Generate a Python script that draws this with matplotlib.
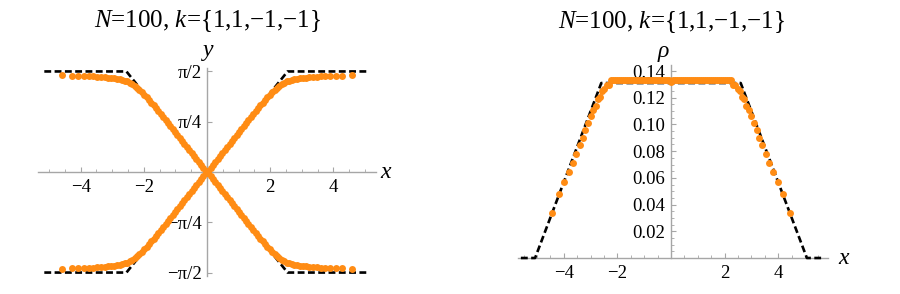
import numpy as np
import matplotlib
matplotlib.use("Agg")
import matplotlib.pyplot as plt
from matplotlib.ticker import FixedLocator, MultipleLocator

plt.rcParams['font.family'] = 'serif'
plt.rcParams['font.serif'] = ['Liberation Serif', 'DejaVu Serif']
plt.rcParams['mathtext.fontset'] = 'custom'
plt.rcParams['mathtext.rm'] = 'Liberation Serif'
plt.rcParams['mathtext.it'] = 'Liberation Serif:italic'

N = 100
# roots x_i > 0 (the set is symmetric about 0, only the positive half is listed)
x_half = [0.038, 0.113, 0.188, 0.263, 0.338, 0.413, 0.488, 0.563, 0.638, 0.713,
          0.788, 0.863, 0.938, 1.013, 1.088, 1.163, 1.238, 1.313, 1.388, 1.463,
          1.538, 1.613, 1.688, 1.763, 1.838, 1.913, 1.988, 2.063, 2.138, 2.213,
          2.288, 2.365, 2.442, 2.521, 2.601, 2.684, 2.768, 2.856, 2.946, 3.040,
          3.139, 3.243, 3.354, 3.472, 3.600, 3.740, 3.895, 4.070, 4.280, 4.580]
# y_i for those roots (antisymmetric)
y_half = [0.023, 0.069, 0.116, 0.162, 0.208, 0.254, 0.300, 0.347, 0.393, 0.439,
          0.485, 0.531, 0.578, 0.624, 0.670, 0.716, 0.762, 0.808, 0.855, 0.901,
          0.947, 0.993, 1.039, 1.085, 1.128, 1.170, 1.210, 1.248, 1.284, 1.317,
          1.347, 1.376, 1.398, 1.415, 1.428, 1.439, 1.448, 1.456, 1.463, 1.469,
          1.474, 1.479, 1.484, 1.488, 1.492, 1.496, 1.500, 1.504, 1.507, 1.511]

# limiting curves (dashed)
y_lim_x = [-5.15, -2.55, 2.55, 5.15]
y_lim_y = [-np.pi/2, -np.pi/2, np.pi/2, np.pi/2]
rho_lim_x = [-5.6, -5.07, -2.6, 2.6, 5.07, 5.6]
rho_lim_y = [0.0, 0.0, 0.131, 0.131, 0.0, 0.0]

title = r'$N$=100, $k$={1,1,−1,−1}'
orange = '#ff8c14'
axcol = '#a6a6a6'

xr = np.concatenate([-np.array(x_half[::-1]), np.array(x_half)])
yr = np.concatenate([-np.array(y_half[::-1]), np.array(y_half)])
# density from spacing of neighbouring roots
xm = 0.5 * (xr[1:] + xr[:-1])
rho = 1.0 / (N * np.diff(xr))

fig = plt.figure(figsize=(9, 2.94), dpi=100)
ax1 = fig.add_axes([38/900, (294-275.7)/294, 338/900, 207.4/294])
ax2 = fig.add_axes([518.2/900, (294-258)/294, 309.6/900, 193/294])


def style(ax):
    for s in ['top', 'right']:
        ax.spines[s].set_visible(False)
    for s in ['left', 'bottom']:
        ax.spines[s].set_position(('data', 0))
        ax.spines[s].set_color(axcol)
        ax.spines[s].set_linewidth(1.0)
        ax.spines[s].set_zorder(1)
    ax.patch.set_alpha(0)
    ax.tick_params(which='both', direction='in', color=axcol, labelsize=13.5)
    ax.tick_params(which='major', length=3.5, width=0.8)
    ax.tick_params(which='minor', length=2, width=0.6)
    ax.tick_params(axis='x', pad=5)
    ax.tick_params(axis='y', pad=4)
    ax.xaxis.set_major_locator(FixedLocator([-4, -2, 2, 4]))
    ax.set_xticklabels(['−4', '−2', '2', '4'])
    ax.xaxis.set_minor_locator(MultipleLocator(0.5))


ms = 5.0
dash = (2.6, 1.3)

# left panel
style(ax1)
ax1.plot(y_lim_x, y_lim_y, color='black', lw=1.9, dashes=dash, zorder=2, clip_on=False)
ax1.plot(y_lim_x, [-v for v in y_lim_y], color='black', lw=1.9, dashes=dash, zorder=2, clip_on=False)
ax1.plot(xr, yr, 'o', color=orange, ms=ms, mec='none', zorder=3, clip_on=False)
ax1.plot(xr, -yr, 'o', color=orange, ms=ms, mec='none', zorder=3, clip_on=False)
ax1.set_xlim(-5.35, 5.35)
ax1.set_ylim(-1.62, 1.62)
ax1.yaxis.set_major_locator(FixedLocator([-np.pi/2, -np.pi/4, np.pi/4, np.pi/2]))
ax1.set_yticklabels(['−π/2', '−π/4', 'π/4', 'π/2'])
ax1.yaxis.set_minor_locator(FixedLocator([]))
ax1.text(5.65, 0, 'x', style='italic', fontsize=17, ha='center', va='center')
ax1.text(0.03, 1.90, 'y', style='italic', fontsize=17, ha='center', va='center')
ax1.text(0, 2.36, title, fontsize=18, ha='center', va='center')

# right panel
style(ax2)
ax2.plot(rho_lim_x, rho_lim_y, color='black', lw=1.9, dashes=dash, zorder=2, clip_on=False)
ax2.plot(xm, rho, 'o', color=orange, ms=ms, mec='none', zorder=3, clip_on=False)
ax2.set_xlim(-5.7, 5.85)
ax2.set_ylim(0, 0.1445)
ax2.yaxis.set_major_locator(FixedLocator([0.02, 0.04, 0.06, 0.08, 0.10, 0.12, 0.14]))
ax2.set_yticklabels(['0.02', '0.04', '0.06', '0.08', '0.10', '0.12', '0.14'])
ax2.yaxis.set_minor_locator(MultipleLocator(0.005))
ax2.text(6.45, 0, 'x', style='italic', fontsize=17, ha='center', va='center')
ax2.text(-0.3, 0.1545, 'ρ', style='italic', fontsize=17, ha='center', va='center')
ax2.text(0, 0.1765, title, fontsize=18, ha='center', va='center')

fig.savefig('out.png', dpi=100)
